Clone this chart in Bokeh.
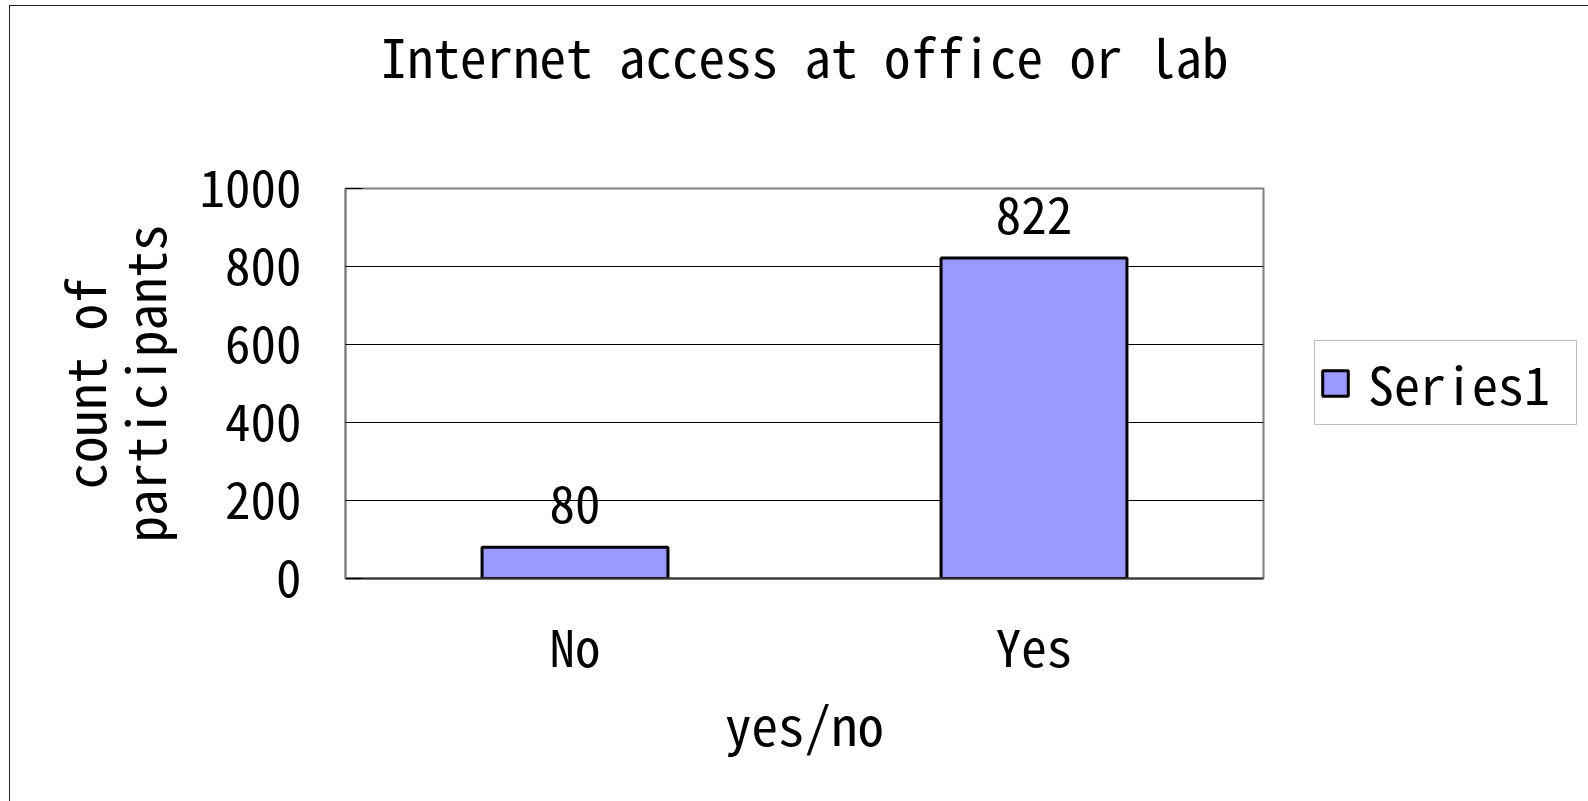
from bokeh.plotting import figure
from bokeh.layouts import row
from bokeh.models import ColumnDataSource, Legend, LegendItem, LabelSet, FixedTicker, Range1d, Title
from bokeh.embed import file_html
from bokeh.resources import INLINE
from bokeh.core.properties import value

# ---- data ----
categories = ["No", "Yes"]
counts = [80, 822]
series_name = "Series1"
y_ticks = [0, 200, 400, 600, 800, 1000]
title_text = "Internet access at office or lab"
x_label = "yes/no"
y_label = "count of\nparticipants"

FONT = "'Noto Sans Mono CJK JP', 'DejaVu Sans Mono', monospace"
BAR_FILL = "#9999FF"

src = ColumnDataSource(dict(cat=categories, count=counts, label=[str(c) for c in counts]))

# ---- main chart ----
p = figure(x_range=categories, y_range=Range1d(0, 1000),
           width=1258, height=795, output_backend="svg", toolbar_location=None,
           title=title_text,
           min_border_left=335, min_border_right=5, min_border_top=182, min_border_bottom=223)

p.background_fill_color = "white"
p.border_fill_color = "white"
p.outline_line_color = "#808080"
p.outline_line_width = 2

# spacer between frame and title (title is the outermost panel)
p.add_layout(Title(text=" ", text_font_size="1px", standoff=93), "above")

p.title.text_font = FONT
p.title.text_font_size = "53px"
p.title.text_font_style = "normal"
p.title.text_color = "black"
p.title.align = "center"
p.title.standoff = 0

r = p.vbar(x="cat", top="count", width=0.405, source=src,
           fill_color=BAR_FILL, line_color="black", line_width=3)

labels = LabelSet(x="cat", y="count", text="label", source=src, y_offset=24,
                  text_align="center", text_baseline="alphabetic",
                  text_font=value(FONT), text_font_size="51px", text_color="black")
p.add_layout(labels)

p.xaxis.axis_label = x_label
p.yaxis.axis_label = y_label
for ax in (p.xaxis[0], p.yaxis[0]):
    ax.axis_label_text_font = FONT
    ax.axis_label_text_font_size = "53px"
    ax.axis_label_text_font_style = "normal"
    ax.axis_label_text_color = "black"
    ax.major_label_text_font = FONT
    ax.major_label_text_font_size = "51px"
    ax.major_label_text_color = "black"
    ax.axis_line_color = "#808080"
    ax.axis_line_width = 2
    ax.major_tick_line_color = "black"
    ax.major_tick_out = 0
    ax.minor_tick_line_color = None

p.xaxis.axis_line_color = "#333333"
p.xaxis.major_tick_in = 0
p.xaxis.major_label_standoff = 29
p.xaxis.axis_label_standoff = 0

p.yaxis.ticker = FixedTicker(ticks=y_ticks)
p.yaxis.major_tick_in = 17
p.yaxis.major_label_standoff = 44
p.yaxis.axis_label_standoff = 15
p.yaxis.axis_label_text_line_height = 0.79

p.xgrid.visible = False
p.ygrid.ticker = FixedTicker(ticks=y_ticks)
p.ygrid.grid_line_color = "black"
p.ygrid.grid_line_width = 1

# ---- legend panel (separate canvas to the right; its frame is aligned with the chart's) ----
# The series renderer here is hidden: it only supplies the legend swatch.
pl = figure(x_range=categories, y_range=Range1d(0, 1000),
            width=320, height=795, output_backend="svg", toolbar_location=None,
            x_axis_type=None, y_axis_type=None,
            min_border_left=0, min_border_right=0, min_border_top=0, min_border_bottom=0)
pl.grid.visible = False
pl.outline_line_color = None
pl.background_fill_color = "white"
pl.border_fill_color = "white"
lr = pl.vbar(x="cat", top="count", width=0.405, source=src,
             fill_color=BAR_FILL, line_color="black", line_width=3, visible=False)

legend = Legend(items=[LegendItem(label=series_name, renderers=[lr])],
                location=(46, 153), margin=0, padding=4, spacing=0,
                glyph_width=32, glyph_height=32, label_standoff=17, label_width=204,
                label_text_font=FONT, label_text_font_size="52px", label_text_color="black",
                border_line_color="#808080", border_line_width=1,
                background_fill_color="white", background_fill_alpha=1,
                click_policy="none", inactive_fill_alpha=0)
pl.add_layout(legend)

layout = row(p, pl, spacing=0,
             styles={"border-left": "1px solid #222222", "border-top": "1px solid #222222",
                     "margin-left": "9px", "margin-top": "5px"})

open("out.html", "w").write(file_html(layout, INLINE))
